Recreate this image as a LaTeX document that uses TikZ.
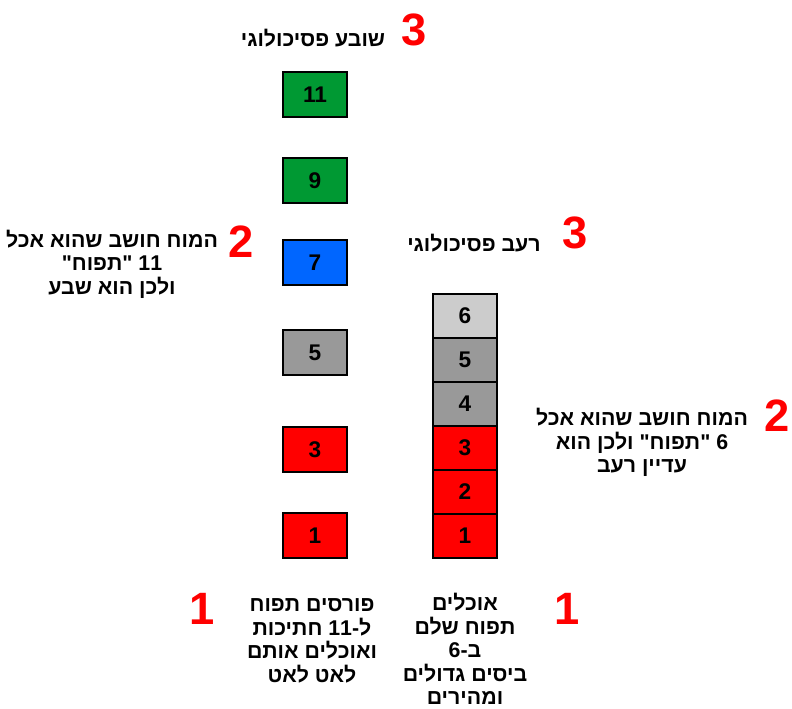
\documentclass[tikz,border=0pt]{standalone}
\usepackage{fontspec}
\setmainfont{Liberation Sans}
\newfontfamily\heb[Script=Hebrew]{Liberation Sans}
\TeXXeTstate=1
\definecolor{bxgreen}{HTML}{009933}
\definecolor{bxblue}{HTML}{0066FF}
\definecolor{bxgray}{HTML}{999999}
\definecolor{bxlight}{HTML}{CCCCCC}
\definecolor{bxred}{HTML}{FF0000}
\tikzset{
  numbox/.style={draw=black, line width=1.3pt, minimum width=47.5pt, minimum height=33.5pt, inner sep=0pt,
    font=\bfseries\fontsize{17}{19}\selectfont},
  stackbox/.style={numbox, minimum width=48pt, minimum height=33pt},
  hebtext/.style={font=\heb\bfseries\fontsize{16}{17.6}\selectfont, align=center, inner sep=0pt},
  reddigit/.style={font=\bfseries\fontsize{34}{34}\selectfont, text=bxred, inner sep=0pt}
}
\begin{document}
\begin{tikzpicture}[x=0.75pt,y=-0.75pt]
\useasboundingbox[fill=white] (0,0) rectangle (792,709);
% left column
\node[numbox, fill=bxgreen] (l11) at (315,94.5) {11};
\node[numbox, fill=bxgreen] (l9) at (315,180.5) {9};
\node[numbox, fill=bxblue] (l7) at (315,262.5) {7};
\node[numbox, fill=bxgray] (l5) at (315,352.5) {5};
\node[numbox, fill=bxred] (l3) at (315,449.5) {3};
\node[numbox, fill=bxred] (l1) at (315,535.5) {1};
% right stack
\node[stackbox, fill=bxlight] (r6) at (465,316) {6};
\node[stackbox, fill=bxgray] (r5) at (465,360) {5};
\node[stackbox, fill=bxgray] (r4) at (465,404) {4};
\node[stackbox, fill=bxred] (r3) at (465,448) {3};
\node[stackbox, fill=bxred] (r2) at (465,492) {2};
\node[stackbox, fill=bxred] (r1) at (465,536) {1};
% red step numbers
\node[reddigit] (n3a) at (414,30) {3};
\node[reddigit] (n2a) at (241,242) {2};
\node[reddigit] (n3b) at (575,233) {3};
\node[reddigit] (n2b) at (777,416) {2};
\node[reddigit] (n1a) at (202,609) {1};
\node[reddigit] (n1b) at (567,609) {1};
% texts
\node[hebtext] (t3a) at (313,38) {\beginR שובע פסיכולוגי\endR};
\node[hebtext] (t3b) at (474,243) {\beginR רעב פסיכולוגי\endR};
\node[hebtext] (t2a) at (112,264) {\beginR המוח חושב שהוא אכל\endR\\\beginR 11 "תפוח"\endR\hspace*{12pt}\\\beginR ולכן הוא שבע\endR};
\node[hebtext] (t2b) at (642,442.5) {\beginR המוח חושב שהוא אכל\endR\\\beginR 6 "תפוח" ולכן הוא\endR\\\beginR עדיין רעב\endR};
\node[hebtext] (t1a) at (312,641) {\beginR פורסים תפוח\endR\\\beginR ל-11 חתיכות\endR\\\beginR ואוכלים אותם\endR\\\beginR לאט לאט\endR};
\node[hebtext] (t1b) at (465,649) {\beginR אוכלים\endR\\\beginR תפוח שלם\endR\\\beginR ב-6\endR\\\beginR ביסים גדולים\endR\\\beginR ומהירים\endR};
\end{tikzpicture}
\end{document}
